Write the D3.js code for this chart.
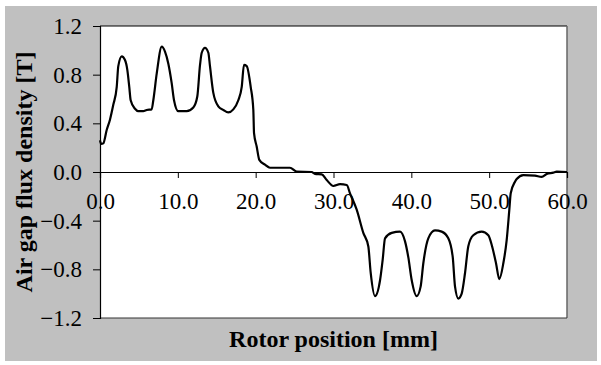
<!DOCTYPE html>
<html>
<head>
<meta charset="utf-8">
<script src="https://cdn.jsdelivr.net/npm/d3@7/dist/d3.min.js"></script>
<style>
  body { margin: 0; background: #fff; }
  text { font-family: "Liberation Serif", "Times New Roman", serif; }
</style>
</head>
<body>
<script>
// rotor position [mm]
const position = [0, 0.15, 0.42, 0.86, 1.28, 1.7, 2.15, 2.35, 2.79, 3.21, 3.51, 3.76, 3.94, 4.5, 4.92,
  5.56, 6.0, 6.64, 6.85, 7.29, 7.93, 8.35, 8.78, 9.21, 9.51, 10.06, 11.14, 11.99, 12.5, 12.85, 13.07,
  13.49, 13.92, 14.13, 14.56, 15.2, 15.84, 16.48, 17.13, 17.77, 18.21, 18.5, 18.85, 19.36, 19.7, 19.79,
  20.13, 20.47, 21.2, 21.84, 24.41, 25.27, 27.2, 27.62, 28.49, 29.13, 29.98, 30.84, 31.7, 32.12, 32.98,
  33.83, 34.47, 34.78, 35.33, 35.98, 36.32, 36.62, 37.48, 38.55, 39.19, 39.61, 40.05, 40.69, 41.2,
  41.54, 42.18, 43.04, 43.9, 44.75, 45.32, 45.61, 46.04, 46.47, 46.9, 47.32, 47.96, 49.04, 49.89,
  50.33, 50.88, 51.3, 51.82, 52.25, 52.59, 52.77, 53.32, 53.54, 54.39, 55.89, 56.75, 57.39, 58.24,
  58.68, 60];
// air gap flux density [T]
const flux = [0.26, 0.23, 0.235, 0.345, 0.43, 0.55, 0.70, 0.87, 0.95, 0.92, 0.84, 0.70, 0.59, 0.52, 0.50,
  0.50, 0.51, 0.515, 0.59, 0.81, 1.03, 0.99, 0.89, 0.73, 0.59, 0.50, 0.50, 0.53, 0.62, 0.88, 0.98,
  1.02, 0.98, 0.87, 0.65, 0.54, 0.51, 0.49, 0.515, 0.59, 0.70, 0.88, 0.87, 0.70, 0.51, 0.32,
  0.21, 0.10, 0.06, 0.035, 0.035, 0.003, 0, -0.016, -0.02, -0.066, -0.115, -0.10, -0.107, -0.175, -0.31,
  -0.50, -0.61, -0.83, -1.02, -0.89, -0.72, -0.545, -0.50, -0.49, -0.57, -0.70, -0.89, -1.02, -0.94,
  -0.75, -0.545, -0.48, -0.49, -0.545, -0.70, -0.94, -1.04, -1.0, -0.83, -0.61, -0.52, -0.49, -0.52,
  -0.60, -0.75, -0.88, -0.75, -0.56, -0.31, -0.175, -0.08, -0.058, -0.025, -0.03, -0.04, -0.016, -0.005,
  0.003, 0.0];
const xTicks = [0, 10, 20, 30, 40, 50, 60];
const yTicks = [-1.2, -0.8, -0.4, 0.0, 0.4, 0.8, 1.2];

const W = 601, H = 365;
const pLeft = 100, pRight = 567, pTop = 26, pBottom = 318;

const svg = d3.select('body').append('svg')
    .attr('width', W)
    .attr('height', H);

svg.append('rect')
    .attr('x', 5).attr('y', 6)
    .attr('width', 592).attr('height', 355)
    .attr('fill', '#c0c0c0');

const x = d3.scaleLinear().domain([0, 60]).range([pLeft, pRight]);
const y = d3.scaleLinear().domain([-1.2, 1.2]).range([pBottom, pTop]);

// plot area
svg.append('rect')
    .attr('x', pLeft).attr('y', pTop)
    .attr('width', pRight - pLeft).attr('height', pBottom - pTop)
    .attr('fill', '#fff');
svg.append('line')
    .attr('x1', pLeft).attr('x2', pRight).attr('y1', pTop).attr('y2', pTop)
    .attr('stroke', '#000').attr('stroke-width', 1);
svg.append('line')
    .attr('x1', pRight).attr('x2', pRight).attr('y1', pTop).attr('y2', pBottom)
    .attr('stroke', '#666').attr('stroke-width', 1.5);
svg.append('line')
    .attr('x1', pLeft).attr('x2', pRight).attr('y1', pBottom).attr('y2', pBottom)
    .attr('stroke', '#333').attr('stroke-width', 1);

// y axis
const yAxis = svg.append('g')
    .attr('transform', `translate(${pLeft},0)`)
    .call(d3.axisLeft(y).tickValues(yTicks).tickFormat(d3.format('.1f')).tickSizeOuter(0).tickSize(7).tickPadding(11));
yAxis.select('.domain').attr('stroke', '#000').attr('stroke-width', 1.2);
yAxis.selectAll('text').attr('font-size', '23px').attr('fill', '#000')
    .style('font-family', '"Liberation Serif", "Times New Roman", serif');

// x axis on zero line
const xAxis = svg.append('g')
    .attr('transform', `translate(0,${y(0)})`)
    .call(d3.axisBottom(x).tickValues(xTicks).tickFormat(d3.format('.1f')).tickSizeOuter(0).tickSize(6).tickPadding(15));
xAxis.select('.domain').attr('stroke', '#000').attr('stroke-width', 1.2);
xAxis.selectAll('text').attr('font-size', '23px').attr('fill', '#000')
    .style('font-family', '"Liberation Serif", "Times New Roman", serif');

const line = d3.line()
    .curve(d3.curveMonotoneX)
    .x(i => x(position[i]))
    .y(i => y(flux[i]));

svg.append('path')
    .datum(d3.range(position.length))
    .attr('d', line)
    .attr('fill', 'none')
    .attr('stroke', '#000')
    .attr('stroke-width', 2.2)
    .attr('stroke-linejoin', 'round');

svg.append('text')
    .attr('x', (pLeft + pRight) / 2)
    .attr('y', 347)
    .attr('text-anchor', 'middle')
    .attr('font-size', '24px')
    .attr('font-weight', 'bold')
    .text('Rotor position [mm]');

svg.append('text')
    .attr('transform', `translate(32,${(pTop + pBottom) / 2}) rotate(-90)`)
    .attr('text-anchor', 'middle')
    .attr('font-size', '24px')
    .attr('font-weight', 'bold')
    .text('Air gap flux density [T]');
</script>
</body>
</html>
